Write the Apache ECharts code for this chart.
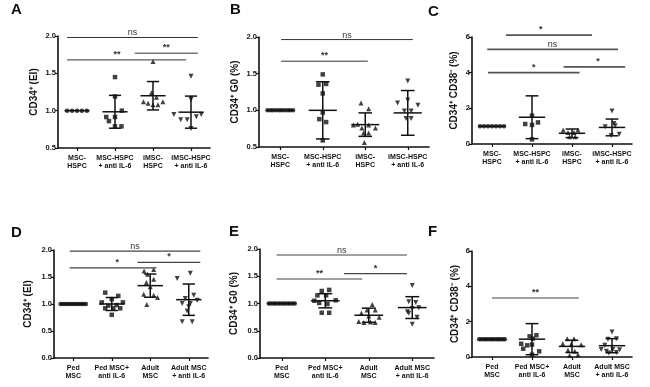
<!DOCTYPE html>
<html>
<head>
<meta charset="utf-8">
<script src="https://cdn.jsdelivr.net/npm/echarts@6/dist/echarts.min.js"></script>
<style>
  html, body { margin: 0; padding: 0; background: #fff; }
  #main { width: 650px; height: 387px; }
</style>
</head>
<body>
<div id="main"></div>
<script>
// group names (top row / bottom row)
const topGroups = ['MSC-\nHSPC', 'MSC-HSPC\n+ anti IL-6', 'iMSC-\nHSPC', 'iMSC-HSPC\n+ anti IL-6'];
const bottomGroups = ['Ped\nMSC', 'Ped MSC+\nanti IL-6', 'Adult\nMSC', 'Adult MSC\n+ anti IL-6'];

// y ticks
const ticksA = [0.5, 1.0, 1.5, 2.0];
const ticksB = [0.5, 1.0, 1.5, 2.0];
const ticksC = [0, 2, 4, 6];
const ticksD = [0, 0.5, 1.0, 1.5, 2.0];
const ticksE = [0, 0.5, 1.0, 1.5, 2.0];
const ticksF = [0, 2, 4, 6];

// points per group: [spread offset inside the group, value]
const pointsA = [
  [[-0.26, 1], [-0.13, 1], [0, 1], [0.13, 1], [0.26, 1]],
  [[0, 1.45], [0, 1.19], [0.18, 1.0], [-0.23, 0.915], [0, 0.915], [-0.16, 0.86], [0, 0.79], [0.17, 0.79]],
  [[0, 1.66], [-0.04, 1.24], [0.09, 1.18], [-0.25, 1.12], [-0.13, 1.10], [0, 1.08], [0.13, 1.08], [0.26, 1.12]],
  [[0, 1.46], [0, 1.15], [-0.45, 0.95], [0.27, 0.95], [-0.27, 0.88], [-0.1, 0.88], [0.14, 0.92], [0, 0.76]]
];
const meansA = [1, 0.985, 1.2, 0.98];
const sdsA = [0, 0.22, 0.19, 0.215];
// [from, to, value, label, label position (optional)]
const bracketsA = [[-0.26, 3.18, 1.98, 'ns'], [-0.26, 2.87, 1.68, '**', 1.05], [1.52, 3.18, 1.77, '**']];

const pointsB = [
  [[-0.3, 1], [-0.23, 1], [-0.17, 1], [-0.1, 1], [-0.03, 1], [0.03, 1], [0.1, 1], [0.17, 1], [0.23, 1], [0.3, 1]],
  [[0, 1.49], [-0.1, 1.35], [0.08, 1.36], [0, 1.23], [0, 0.97], [-0.08, 0.88], [0.08, 0.84], [0, 0.59]],
  [[-0.1, 1.10], [0.08, 1.02], [-0.28, 0.80], [-0.18, 0.81], [-0.08, 0.76], [0.08, 0.80], [0.24, 0.76], [-0.04, 0.69], [0.08, 0.69], [-0.02, 0.56]],
  [[0, 1.40], [-0.24, 1.10], [0, 1.14], [0.24, 1.07], [-0.08, 0.99], [0.08, 0.99], [-0.04, 0.89], [0.08, 0.89]]
];
const meansB = [1, 1.0, 0.805, 0.965];
const sdsB = [0, 0.39, 0.16, 0.305];
const bracketsB = [[0.02, 3.12, 1.965, 'ns'], [0.02, 2.06, 1.67, '**']];

const pointsC = [
  [[-0.3, 1], [-0.2, 1], [-0.1, 1], [0, 1], [0.1, 1], [0.2, 1], [0.3, 1]],
  [[0, 1.59], [-0.17, 1.12], [0, 1.07], [0.15, 1.21], [0, 0.26]],
  [[-0.22, 0.79], [0.15, 0.79], [-0.1, 0.65], [0.05, 0.64], [-0.06, 0.41], [0.08, 0.41]],
  [[0, 1.85], [-0.17, 0.97], [0.08, 1.03], [0.05, 1.15], [-0.02, 0.47], [0.18, 0.54]]
];
const meansC = [1, 1.5, 0.6, 0.93];
const sdsC = [0, 1.2, 0.24, 0.47];
const bracketsC = [[0.35, 2.5, 6.11, '*', 1.22], [-0.12, 3.15, 5.31, 'ns'], [-0.1, 2.19, 4.0, '*'], [1.79, 3.33, 4.32, '*', 2.65]];

const pointsD = [
  [[-0.33, 1], [-0.27, 1], [-0.21, 1], [-0.15, 1], [-0.09, 1], [-0.03, 1], [0.03, 1], [0.09, 1], [0.15, 1], [0.21, 1], [0.27, 1], [0.33, 1]],
  [[-0.17, 1.21], [0.17, 1.15], [0, 1.09], [-0.26, 1.03], [0.29, 1.03], [-0.09, 0.97], [0.13, 0.98], [-0.17, 0.92], [0.04, 0.92], [0.22, 0.92], [0, 0.80]],
  [[-0.16, 1.61], [0.09, 1.64], [-0.07, 1.55], [0.09, 1.46], [-0.1, 1.40], [0, 1.32], [-0.17, 1.18], [0.09, 1.16], [0.19, 1.12], [-0.09, 0.99]],
  [[0.04, 1.57], [-0.3, 1.47], [-0.09, 1.10], [0.13, 1.16], [-0.17, 1.01], [0.04, 1.01], [0.22, 1.07], [0, 0.95], [-0.04, 0.87], [-0.17, 0.67], [0.09, 0.67]]
];
const meansD = [1, 1.0, 1.34, 1.08];
const sdsD = [0, 0.12, 0.215, 0.29];
const bracketsD = [[-0.09, 3.3, 1.98, 'ns'], [-0.09, 2.16, 1.67, '*', 1.14], [1.67, 3.3, 1.77, '*']];

const pointsE = [
  [[-0.3, 1], [-0.25, 1], [-0.19, 1], [-0.14, 1], [-0.08, 1], [-0.03, 1], [0.03, 1], [0.08, 1], [0.14, 1], [0.19, 1], [0.25, 1], [0.3, 1]],
  [[-0.08, 1.23], [0.09, 1.25], [-0.18, 1.15], [0.02, 1.15], [-0.14, 1.01], [0.05, 0.99], [0.24, 1.06], [-0.25, 1.05], [-0.08, 0.83], [0.09, 0.83]],
  [[0.08, 0.98], [-0.17, 0.82], [-0.04, 0.88], [0.15, 0.88], [-0.23, 0.67], [-0.11, 0.65], [0.04, 0.66], [0.15, 0.65], [0.24, 0.75], [0, 0.77]],
  [[0, 1.33], [-0.08, 1.03], [0.08, 1.02], [0, 0.91], [-0.11, 0.85], [0.15, 0.92], [-0.08, 0.82], [0.11, 0.75], [0, 0.62]]
];
const meansE = [1, 1.05, 0.785, 0.925];
const sdsE = [0, 0.13, 0.13, 0.2];
const bracketsE = [[-0.12, 2.88, 1.89, 'ns'], [-0.12, 1.85, 1.45, '**'], [1.43, 2.88, 1.55, '*']];

const pointsF = [
  [[-0.32, 1], [-0.27, 1], [-0.21, 1], [-0.16, 1], [-0.11, 1], [-0.05, 1], [0, 1], [0.05, 1], [0.11, 1], [0.16, 1], [0.21, 1], [0.27, 1], [0.32, 1]],
  [[-0.06, 1.17], [0.11, 1.23], [0.02, 1.04], [-0.27, 0.75], [-0.12, 0.66], [0, 0.7], [0.18, 0.32], [-0.22, 0.47], [0, 0.13]],
  [[-0.12, 1.04], [0.05, 1.04], [-0.23, 0.75], [0.23, 0.7], [-0.02, 0.72], [-0.1, 0.38], [0.07, 0.32], [-0.06, 0.09], [0.15, 0.13]],
  [[0, 1.42], [-0.1, 1.0], [0.11, 1.04], [-0.27, 0.43], [-0.14, 0.32], [0.02, 0.43], [0.19, 0.41], [-0.08, 0.23], [0.11, 0.25], [-0.18, 0.66]]
];
const meansF = [1, 1.01, 0.6, 0.64];
const sdsF = [0, 0.88, 0.35, 0.4];
const bracketsF = [[0, 2.17, 3.34, '**']];

const FONT = '"Liberation Sans", Arial, sans-serif';
const symbols = ['circle', 'rect', 'triangle', 'triangle'];
const rotates = [0, 0, 0, 180];
const sizes = [4.5, 4.5, 5, 5];

const panels = [
  { letter: 'A', lpos: [11, 2], grid: { left: 58, top: 36, width: 152, height: 112 }, groups: topGroups, ticks: ticksA, dec: 1,
    name: 'CD34⁺ (EI)', gap: 19, points: pointsA, means: meansA, sds: sdsA, brackets: bracketsA, bw: 1, bc: '#333' },
  { letter: 'B', lpos: [230, 2], grid: { left: 259, top: 37, width: 170, height: 110 }, groups: topGroups, ticks: ticksB, dec: 1,
    name: 'CD34⁺ G0 (%)', gap: 19, points: pointsB, means: meansB, sds: sdsB, brackets: bracketsB, bw: 1, bc: '#333' },
  { letter: 'C', lpos: [428, 4], grid: { left: 472, top: 37, width: 160, height: 107 }, groups: topGroups, ticks: ticksC, dec: 0,
    name: 'CD34⁺ CD38⁻ (%)', gap: 13, points: pointsC, means: meansC, sds: sdsC, brackets: bracketsC, bw: 1.8, bc: '#555' },
  { letter: 'D', lpos: [11, 225], grid: { left: 54, top: 250, width: 154, height: 108 }, groups: bottomGroups, ticks: ticksD, dec: 1,
    name: 'CD34⁺ (EI)', gap: 21, points: pointsD, means: meansD, sds: sdsD, brackets: bracketsD, bw: 1.2, bc: '#444' },
  { letter: 'E', lpos: [229, 224], grid: { left: 260, top: 249, width: 174, height: 109 }, groups: bottomGroups, ticks: ticksE, dec: 1,
    name: 'CD34⁺ G0 (%)', gap: 21, points: pointsE, means: meansE, sds: sdsE, brackets: bracketsE, bw: 1.2, bc: '#444' },
  { letter: 'F', lpos: [428, 224], grid: { left: 472, top: 251, width: 160, height: 106 }, groups: bottomGroups, ticks: ticksF, dec: 0,
    name: 'CD34⁺ CD38⁻ (%)', gap: 12, points: pointsF, means: meansF, sds: sdsF, brackets: bracketsF, bw: 1, bc: '#444' }
];

function errorBars(params, api) {
  const g = api.value(0), m = api.value(1), s = api.value(2);
  const c = api.coord([g, m]);
  const w = api.size([1, 0])[0];
  const st = { stroke: '#111', lineWidth: 1.5 };
  const kids = [{ type: 'line', shape: { x1: c[0] - w * 0.33, y1: c[1], x2: c[0] + w * 0.33, y2: c[1] }, style: st }];
  if (s > 0) {
    const t = api.coord([g, m + s]), b = api.coord([g, m - s]);
    kids.push({ type: 'line', shape: { x1: c[0], y1: t[1], x2: c[0], y2: b[1] }, style: st });
    kids.push({ type: 'line', shape: { x1: c[0] - w * 0.16, y1: t[1], x2: c[0] + w * 0.16, y2: t[1] }, style: st });
    kids.push({ type: 'line', shape: { x1: c[0] - w * 0.16, y1: b[1], x2: c[0] + w * 0.16, y2: b[1] }, style: st });
  }
  return { type: 'group', children: kids };
}

function bracketRender(p) {
  return function (params, api) {
    const b = p.brackets[params.dataIndex];
    const a = api.coord([b[0], b[2]]), e = api.coord([b[1], b[2]]);
    const tx = b[4] !== undefined ? api.coord([b[4], b[2]])[0] : (a[0] + e[0]) / 2;
    const ns = b[3] === 'ns';
    return { type: 'group', children: [
      { type: 'line', shape: { x1: a[0], y1: a[1], x2: e[0], y2: e[1] }, style: { stroke: p.bc, lineWidth: p.bw } },
      { type: 'text', x: tx, y: a[1] - (ns ? 0 : 1),
        style: { text: b[3], align: 'center', verticalAlign: 'bottom', textAlign: 'center', textVerticalAlign: 'bottom',
                 font: (ns ? 'normal 9px ' : 'bold 9px ') + FONT, fill: '#333' } }
    ] };
  };
}

const option = { animation: false, backgroundColor: '#fff', grid: [], xAxis: [], yAxis: [], series: [], graphic: [] };

panels.forEach(function (p, i) {
  option.grid.push(Object.assign({ containLabel: false, outerBoundsMode: 'none' }, p.grid));
  option.xAxis.push({
    type: 'category', gridIndex: i, data: p.groups, boundaryGap: true,
    axisLine: { onZero: false, lineStyle: { color: '#111', width: 1.6 } },
    axisTick: { show: true, alignWithLabel: true, length: 3, lineStyle: { color: '#111', width: 1.2 } },
    axisLabel: { interval: 0, fontSize: 7, fontWeight: 'bold', lineHeight: 8, margin: 6, color: '#111', fontFamily: FONT },
    splitLine: { show: false }
  });
  option.xAxis.push({ type: 'value', gridIndex: i, min: -0.5, max: 3.5, show: false, axisLine: { onZero: false } });
  option.yAxis.push({
    type: 'value', gridIndex: i,
    min: p.ticks[0], max: p.ticks[p.ticks.length - 1], interval: p.ticks[1] - p.ticks[0],
    axisLine: { show: true, onZero: false, lineStyle: { color: '#111', width: 1.6 } },
    axisTick: { show: true, length: 3, lineStyle: { color: '#111', width: 1.2 } },
    axisLabel: { fontSize: 7.5, fontWeight: 'bold', margin: 2, color: '#111', fontFamily: FONT,
                 formatter: (function (d) { return function (v) { return v.toFixed(d); }; })(p.dec) },
    splitLine: { show: false },
    name: p.name, nameLocation: 'middle', nameGap: p.gap, nameMoveOverlap: false,
    nameTextStyle: { fontSize: 10, fontWeight: 'bold', color: '#111', fontFamily: FONT }
  });
  const xv = 2 * i + 1;
  p.points.forEach(function (pts, g) {
    option.series.push({
      type: 'scatter', xAxisIndex: xv, yAxisIndex: i, silent: true,
      symbol: symbols[g], symbolRotate: rotates[g], symbolSize: sizes[g],
      itemStyle: { color: '#111' },
      data: pts.map(function (d) { return [g + d[0], d[1]]; })
    });
  });
  option.series.push({
    type: 'custom', xAxisIndex: xv, yAxisIndex: i, silent: true, z: 3,
    data: p.means.map(function (m, g) { return [g, m, p.sds[g]]; }),
    renderItem: errorBars
  });
  option.series.push({
    type: 'custom', xAxisIndex: xv, yAxisIndex: i, silent: true, z: 3, clip: false,
    data: p.brackets.map(function (b) { return [b[0], b[2]]; }),
    renderItem: bracketRender(p)
  });
  option.graphic.push({
    type: 'text', left: p.lpos[0], top: p.lpos[1],
    style: { text: p.letter, font: 'bold 15px ' + FONT, fill: '#111' }
  });
});

const chart = echarts.init(document.getElementById('main'), null, { renderer: 'canvas' });
chart.setOption(option);
</script>
</body>
</html>
